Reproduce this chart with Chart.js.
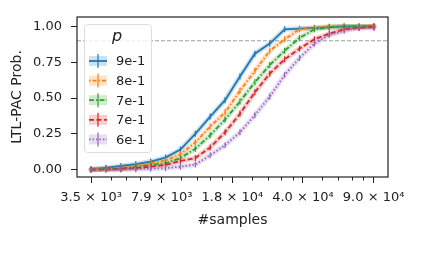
<!DOCTYPE html>
<html>
<head>
<meta charset="utf-8">
<script src="https://cdn.jsdelivr.net/npm/chart.js@4/dist/chart.umd.min.js"></script>
<style>
  html, body { margin: 0; padding: 0; background: #fff; }
  #chart { display: block; }
</style>
</head>
<body>
<canvas id="chart" width="423" height="254"></canvas>
<script>
// number of samples (x, log axis)
const samples = [3500, 4152, 4926, 5844, 6934, 8226, 9760, 11579, 13737, 16298,
                 19336, 22940, 27216, 32290, 38309, 45450, 53922, 63974, 75899, 90000];

// LTL-PAC probability per p value
const p9  = [0.0, 0.012, 0.025, 0.038, 0.056, 0.084, 0.14, 0.25, 0.37, 0.485,
             0.65, 0.81, 0.88, 0.98, 0.985, 0.99, 0.995, 1.0, 1.0, 1.0];
const p8  = [0.0, 0.006, 0.012, 0.025, 0.044, 0.063, 0.107, 0.19, 0.30, 0.40,
             0.55, 0.69, 0.83, 0.91, 0.98, 0.99, 1.0, 1.0, 1.0, 1.0];
const p7a = [0.0, 0.004, 0.008, 0.018, 0.032, 0.044, 0.08, 0.145, 0.24, 0.35,
             0.475, 0.61, 0.73, 0.83, 0.92, 0.98, 0.995, 1.0, 1.0, 1.0];
const p7b = [0.0, 0.0, 0.004, 0.01, 0.02, 0.032, 0.06, 0.08, 0.155, 0.26,
             0.39, 0.54, 0.67, 0.77, 0.845, 0.91, 0.95, 0.98, 0.99, 1.0];
const p6  = [0.0, 0.0, 0.0, 0.003, 0.006, 0.01, 0.02, 0.035, 0.10, 0.17,
             0.26, 0.38, 0.51, 0.66, 0.78, 0.88, 0.94, 0.97, 0.99, 0.99];

const seriesLabels = ['9e-1', '8e-1', '7e-1', '7e-1', '6e-1'];
const seriesData = [p9, p8, p7a, p7b, p6];
const colors = ['#1f77b4', '#ff7f0e', '#2ca02c', '#d62728', '#9467bd'];
const bands = ['rgba(31,119,180,0.22)', 'rgba(255,127,14,0.22)', 'rgba(44,160,44,0.22)',
               'rgba(214,39,40,0.22)', 'rgba(148,103,189,0.22)'];
const dashes = [[], [1.5, 2, 4, 2], [5, 2, 1.5, 2], [5, 2.5], [1.5, 2]];

const xTicks = [3500, 7875, 17719, 39867, 89701];
const xTickLabels = ['3.5 × 10³', '7.9 × 10³', '1.8 × 10⁴', '4.0 × 10⁴', '9.0 × 10⁴'];
const xMinorSteps = [1.25, 1.5, 1.75, 2];
const yTicks = [0, 0.25, 0.5, 0.75, 1];
const threshold = 0.9;

Chart.defaults.font.family = 'DejaVu Sans';
Chart.defaults.font.size = 13;
Chart.defaults.color = '#222';

const datasets = [];
seriesData.forEach((vals, i) => {
  const pts = vals.map((v, k) => ({x: samples[k], y: v}));
  // shaded confidence band
  datasets.push({
    data: pts, borderColor: bands[i], borderWidth: 5, pointRadius: 0,
    borderCapStyle: 'round', borderJoinStyle: 'round', order: 20 - i
  });
  // main line with small vertical error marks
  datasets.push({
    label: seriesLabels[i], data: pts, borderColor: colors[i], borderWidth: 1.8,
    borderDash: dashes[i], pointStyle: 'line', pointRotation: 90, pointRadius: 3,
    pointBorderWidth: 1.2, pointBorderColor: colors[i], order: 10 - i
  });
});

const extras = {
  id: 'extras',
  beforeDatasetsDraw(chart) {
    const {ctx, chartArea: a, scales: {y}} = chart;
    const ty = y.getPixelForValue(threshold);
    ctx.save();
    ctx.strokeStyle = '#a0a0a0';
    ctx.lineWidth = 1;
    ctx.setLineDash([4, 2]);
    ctx.beginPath();
    ctx.moveTo(a.left, ty);
    ctx.lineTo(a.right, ty);
    ctx.stroke();
    ctx.restore();
  },
  afterDraw(chart) {
    const {ctx, chartArea: a, scales: {x}} = chart;
    ctx.save();
    // minor ticks on the x axis
    ctx.strokeStyle = '#222';
    ctx.lineWidth = 1;
    xTicks.slice(0, -1).forEach(t => {
      xMinorSteps.forEach(m => {
        const px = Math.round(x.getPixelForValue(t * m)) + 0.5;
        ctx.beginPath();
        ctx.moveTo(px, a.bottom);
        ctx.lineTo(px, a.bottom + 3.5);
        ctx.stroke();
      });
    });
    // frame
    ctx.lineWidth = 1.2;
    ctx.strokeRect(a.left, a.top, a.right - a.left, a.bottom - a.top);

    // legend
    const lx = 84, ly = 24, lw = 67, lh = 128;
    ctx.fillStyle = 'rgba(255,255,255,0.8)';
    ctx.strokeStyle = '#dcdcdc';
    ctx.lineWidth = 1;
    ctx.beginPath();
    ctx.roundRect(lx + 0.5, ly + 0.5, lw, lh, 3);
    ctx.fill();
    ctx.stroke();
    ctx.fillStyle = '#222';
    ctx.font = 'italic 16px "DejaVu Sans"';
    ctx.textAlign = 'center';
    ctx.textBaseline = 'middle';
    ctx.fillText('p', 117, 37);
    ctx.font = '13px "DejaVu Sans"';
    ctx.textAlign = 'left';
    seriesLabels.forEach((lab, i) => {
      const ry = 61 + i * 19.6;
      ctx.fillStyle = bands[i];
      ctx.fillRect(89, ry - 5, 18, 10);
      ctx.strokeStyle = colors[i];
      ctx.lineWidth = 1.8;
      ctx.setLineDash(dashes[i]);
      ctx.beginPath();
      ctx.moveTo(89, ry);
      ctx.lineTo(107, ry);
      ctx.stroke();
      ctx.setLineDash([]);
      ctx.lineWidth = 1.2;
      ctx.beginPath();
      ctx.moveTo(98, ry - 7);
      ctx.lineTo(98, ry + 7);
      ctx.stroke();
      ctx.fillStyle = '#222';
      ctx.fillText(lab, 116, ry + 1);
    });
    ctx.restore();
  }
};

new Chart(document.getElementById('chart'), {
  type: 'line',
  data: { datasets },
  options: {
    responsive: false,
    animation: false,
    layout: { padding: { left: 0, right: 35, top: 17, bottom: 0 } },
    plugins: { legend: { display: false }, tooltip: { enabled: false } },
    scales: {
      x: {
        type: 'logarithmic',
        min: 2977, max: 105800,
        afterBuildTicks: s => { s.ticks = xTicks.map(v => ({ value: v })); },
        afterFit: s => { s.height = 77; },
        ticks: {
          autoSkip: false, maxRotation: 0, padding: 7,
          callback: (v, i) => xTickLabels[i]
        },
        grid: { drawOnChartArea: false, drawTicks: true, tickLength: 6, tickColor: '#222' },
        border: { display: false },
        title: { display: true, text: '#samples', font: { size: 14 }, padding: { top: 0, bottom: 25 } }
      },
      y: {
        min: -0.052, max: 1.066,
        afterBuildTicks: s => { s.ticks = yTicks.map(v => ({ value: v })); },
        afterFit: s => { s.width = 77; },
        ticks: { padding: 9, callback: v => v.toFixed(2) },
        grid: { drawOnChartArea: false, drawTicks: true, tickLength: 6, tickColor: '#222' },
        border: { display: false },
        title: { display: true, text: 'LTL-PAC Prob.', font: { size: 14 }, padding: { top: 9, bottom: 0 } }
      }
    }
  },
  plugins: [extras]
});
</script>
</body>
</html>
